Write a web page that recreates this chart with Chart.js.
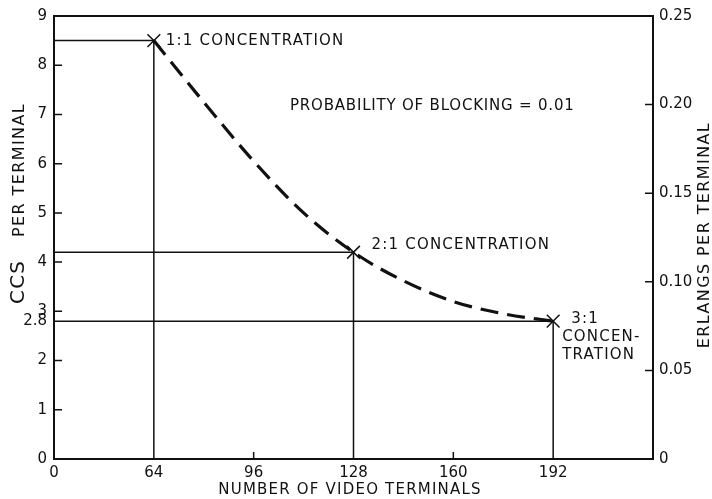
<!DOCTYPE html>
<html>
<head>
<meta charset="utf-8">
<script src="https://cdn.jsdelivr.net/npm/chart.js@4/dist/chart.umd.min.js"></script>
<style>
    html, body { margin: 0; padding: 0; background: #fff; }
    #wrap { width: 712px; height: 499px; position: relative; }
</style>
</head>
<body>
<div id="wrap"><canvas id="ccsChart"></canvas></div>
<script>
// values
const terminals = [64, 128, 192];
const ccsPerTerminal = [8.5, 4.2, 2.8];
const curveTerminals = [64, 80, 96, 112, 128, 144, 160, 176, 192];
const curveCcs = [8.5, 7.25, 6.05, 5.0, 4.2, 3.62, 3.2, 2.95, 2.8];
const xTickValues = [32, 64, 96, 128, 160, 192, 224];
const xTickLabels = ['0', '64', '96', '128', '160', '192', ''];
const ccsTicks = [0, 1, 2, 2.8, 3, 4, 5, 6, 7, 8, 9];
const erlangTicks = [0, 0.05, 0.10, 0.15, 0.20, 0.25];
const erlangTickLabels = ['0', '0.05', '0.10', '0.15', '0.20', '0.25'];

const ink = '#111';
const font = "'DejaVu Sans', sans-serif";

document.addEventListener('DOMContentLoaded', function () {

    const xMin = xTickValues[0];
    const xMax = xTickValues[xTickValues.length - 1];

    // horizontal + vertical guide lines to each marked point
    const guideSets = terminals.map((t, i) => ({
        data: [{ x: xMin, y: ccsPerTerminal[i] }, { x: t, y: ccsPerTerminal[i] }, { x: t, y: 0 }],
        borderColor: ink,
        borderWidth: 1.5,
        pointRadius: 0,
        tension: 0,
        yAxisID: 'y'
    }));

    const textPlugin = {
        id: 'textPlugin',
        afterDraw(chart) {
            const ctx = chart.ctx;
            const area = chart.chartArea;
            const xs = chart.scales.x, ys = chart.scales.y, y1 = chart.scales.y1;
            ctx.save();
            ctx.strokeStyle = ink;
            ctx.lineWidth = 2;
            ctx.beginPath();
            ctx.moveTo(area.left, area.top);
            ctx.lineTo(area.right, area.top);
            ctx.stroke();

            // inward tick marks
            ctx.lineWidth = 1.5;
            ctx.beginPath();
            ccsTicks.forEach(v => {
                if (v === 0 || v === 9 || v === 2.8) return;
                const py = ys.getPixelForValue(v);
                ctx.moveTo(area.left, py); ctx.lineTo(area.left + 8, py);
            });
            erlangTicks.forEach(v => {
                if (v === 0 || v === 0.25) return;
                const py = y1.getPixelForValue(v);
                ctx.moveTo(area.right, py); ctx.lineTo(area.right - 8, py);
            });
            [96, 160].forEach(v => {
                const px = xs.getPixelForValue(v);
                ctx.moveTo(px, area.bottom); ctx.lineTo(px, area.bottom - 7);
            });
            ctx.stroke();

            ctx.fillStyle = ink;
            ctx.font = '15px ' + font;
            ctx.letterSpacing = '1.2px';
            ctx.textBaseline = 'middle';
            ctx.textAlign = 'left';
            const pt = terminals.map((t, i) => ({ x: xs.getPixelForValue(t), y: ys.getPixelForValue(ccsPerTerminal[i]) }));
            ctx.fillText('1:1 CONCENTRATION', pt[0].x + 12, pt[0].y);
            ctx.fillText('2:1 CONCENTRATION', pt[1].x + 18, pt[1].y - 7);
            ctx.fillText('3:1', pt[2].x + 18, pt[2].y - 2);
            ctx.fillText('CONCEN-', pt[2].x + 9, pt[2].y + 16);
            ctx.fillText('TRATION', pt[2].x + 9, pt[2].y + 34);
            ctx.letterSpacing = '0.8px';
            ctx.fillText('PROBABILITY OF BLOCKING = 0.01', 290, 106);

            // axis titles
            ctx.letterSpacing = '1.2px';
            ctx.textAlign = 'center';
            ctx.fillText('NUMBER OF VIDEO TERMINALS', 350, 490);

            ctx.save();
            ctx.translate(709, 235);
            ctx.rotate(-Math.PI / 2);
            ctx.textBaseline = 'alphabetic';
            ctx.font = '16px ' + font;
            ctx.letterSpacing = '1.4px';
            ctx.fillText('ERLANGS PER TERMINAL', 0, 0);
            ctx.restore();

            ctx.save();
            ctx.translate(24, 0);
            ctx.rotate(-Math.PI / 2);
            ctx.textBaseline = 'alphabetic';
            ctx.textAlign = 'left';
            ctx.font = '20px ' + font;
            ctx.fillText('CCS', -304, 0);
            ctx.font = '16px ' + font;
            ctx.letterSpacing = '1.4px';
            ctx.fillText('PER TERMINAL', -237, 0);
            ctx.restore();

            ctx.restore();
        }
    };

    new Chart(document.getElementById('ccsChart'), {
        type: 'line',
        data: {
            datasets: [
                ...guideSets,
                {
                    data: curveTerminals.map((t, i) => ({ x: t, y: curveCcs[i] })),
                    borderColor: ink,
                    borderWidth: 3.2,
                    borderDash: [18, 9],
                    pointRadius: 0,
                    cubicInterpolationMode: 'monotone',
                    yAxisID: 'y'
                },
                {
                    data: terminals.map((t, i) => ({ x: t, y: ccsPerTerminal[i] })),
                    showLine: false,
                    pointStyle: 'crossRot',
                    pointRadius: 9,
                    pointBorderWidth: 1.5,
                    pointBorderColor: ink,
                    yAxisID: 'y'
                }
            ]
        },
        options: {
            responsive: true,
            maintainAspectRatio: false,
            animation: false,
            devicePixelRatio: 1,
            layout: { padding: { top: 15 } },
            plugins: { legend: { display: false }, tooltip: { enabled: false } },
            scales: {
                x: {
                    type: 'linear',
                    min: xMin,
                    max: xMax,
                    afterBuildTicks: axis => { axis.ticks = xTickValues.map(v => ({ value: v })); },
                    afterFit: scale => { scale.height = 40; },
                    grid: { display: false, drawTicks: false },
                    border: { display: true, color: ink, width: 2 },
                    ticks: {
                        color: ink,
                        font: { family: font, size: 15 },
                        padding: 5,
                        maxRotation: 0,
                        autoSkip: false,
                        callback: function (value) {
                            const i = xTickValues.indexOf(value);
                            return i >= 0 ? xTickLabels[i] : '';
                        }
                    }
                },
                y: {
                    position: 'left',
                    min: 0,
                    max: 9,
                    afterBuildTicks: axis => { axis.ticks = ccsTicks.map(v => ({ value: v })); },
                    afterFit: scale => { scale.width = 54; },
                    grid: { display: false, drawTicks: false },
                    border: { display: true, color: ink, width: 2 },
                    ticks: {
                        color: ink,
                        font: { family: font, size: 15 },
                        padding: 7,
                        autoSkip: false,
                        callback: v => String(v)
                    }
                },
                y1: {
                    position: 'right',
                    min: 0,
                    max: 0.25,
                    afterBuildTicks: axis => { axis.ticks = erlangTicks.map(v => ({ value: v })); },
                    afterFit: scale => { scale.width = 59; },
                    grid: { display: false, drawTicks: false },
                    border: { display: true, color: ink, width: 2 },
                    ticks: {
                        color: ink,
                        font: { family: font, size: 15 },
                        padding: 6,
                        autoSkip: false,
                        callback: function (value) {
                            const i = erlangTicks.findIndex(t => Math.abs(t - value) < 1e-9);
                            return i >= 0 ? erlangTickLabels[i] : '';
                        }
                    }
                }
            }
        },
        plugins: [textPlugin]
    });
});
</script>
</body>
</html>
